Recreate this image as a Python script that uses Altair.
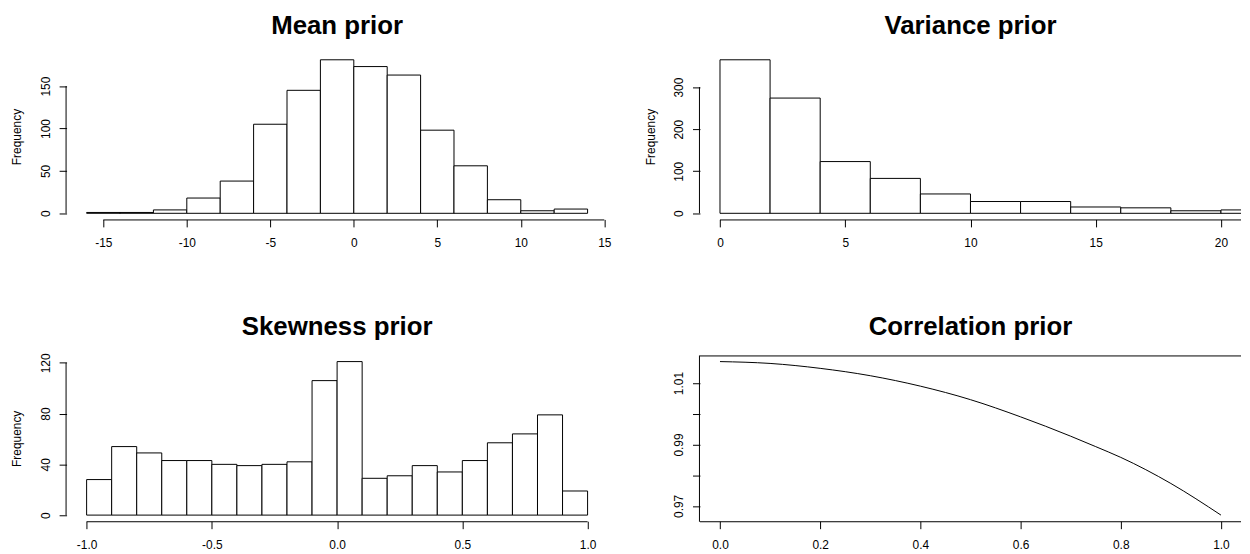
import altair as alt
import pandas as pd

FONT = "Liberation Sans"

# ---------------- data ----------------
mean_edges = [-16, -14, -12, -10, -8, -6, -4, -2, 0, 2, 4, 6, 8, 10, 12, 14]
mean_counts = [1, 1, 4, 18, 38, 105, 145, 181, 173, 163, 98, 56, 16, 3, 5]
mean_xticks = [-15, -10, -5, 0, 5, 10, 15]
mean_yticks = [0, 50, 100, 150]

var_edges = [0, 2, 4, 6, 8, 10, 12, 14, 16, 18, 20, 22]
var_counts = [365, 274, 123, 83, 46, 28, 28, 15, 13, 6, 8]
var_xticks = [0, 5, 10, 15, 20]
var_yticks = [0, 100, 200, 300]

skew_edges = [-1.0, -0.9, -0.8, -0.7, -0.6, -0.5, -0.4, -0.3, -0.2, -0.1, 0.0,
              0.1, 0.2, 0.3, 0.4, 0.5, 0.6, 0.7, 0.8, 0.9, 1.0]
skew_counts = [28, 54, 49, 43, 43, 40, 39, 40, 42, 106, 121,
               29, 31, 39, 34, 43, 57, 64, 79, 19]
skew_xticks = [-1.0, -0.5, 0.0, 0.5, 1.0]
skew_yticks = [0, 20, 40, 60, 80, 100, 120]
skew_ylabels = ["0", "20", "40", "60", "80", "120"]

corr_x = [0.0, 0.1, 0.2, 0.3, 0.4, 0.5, 0.6, 0.7, 0.75, 0.8, 0.9, 1.0]
corr_y = [1.0170, 1.0164, 1.0148, 1.0124, 1.0090, 1.0046, 0.9990, 0.9927,
          0.9893, 0.9858, 0.9773, 0.9670]
corr_xticks = [0.0, 0.2, 0.4, 0.6, 0.8, 1.0]
corr_yticks = [0.97, 0.98, 0.99, 1.00, 1.01]
corr_ylabels = ["0.97", "0.99", "1.01"]

W = 545
H = 167
TICK = 7.5


def ext(lo, hi):
    d = (hi - lo) * 0.04
    return [lo - d, hi + d]


def x_axis(values, fmt):
    return alt.Axis(
        values=values, domain=False, grid=False, ticks=True, tickSize=TICK,
        tickColor="black", tickWidth=1, labelFont=FONT, labelFontSize=12,
        labelColor="black", labelPadding=10.5, labelFlush=False, labelOverlap=False,
        labelExpr="replace(format(datum.value, '%s'), '\u2212', '-')" % fmt,
        title=None,
    )


def y_axis(values, fmt, shown=None, title="Frequency"):
    if shown is None:
        expr = "format(datum.value, '%s')" % fmt
    else:
        arr = "[" + ",".join("'%s'" % s for s in shown) + "]"
        expr = "indexof(%s, format(datum.value, '%s')) >= 0 ? format(datum.value, '%s') : ''" % (arr, fmt, fmt)
    kw = dict(
        values=values, domain=False, grid=False, ticks=True, tickSize=TICK,
        tickColor="black", tickWidth=1, labelFont=FONT, labelFontSize=12,
        labelColor="black", labelAngle=270, labelAlign="center",
        labelBaseline="bottom", labelPadding=7, labelOverlap=False,
        labelExpr=expr,
    )
    if title:
        kw.update(title=title, titleFont=FONT, titleFontSize=12,
                  titleFontWeight="normal", titleColor="black", titleAngle=270,
                  titleX=-50, titleY=H / 2, titleAlign="center",
                  titleBaseline="middle")
    else:
        kw.update(title=None)
    return alt.Axis(**kw)


def title_params(text, offset=15.2):
    return alt.TitleParams(text=text, font=FONT, fontSize=26, fontWeight="bold",
                           color="black", anchor="middle", frame="group",
                           offset=offset)


def hist_panel(title, edges, counts, xdom, xticks, yticks, xfmt, yfmt,
               shown=None, line_to_edge=False, toff=15.2):
    df = pd.DataFrame({"x0": edges[:-1], "x1": edges[1:], "n": counts,
                       "zero": [0] * len(counts)})
    ymax = max(counts)
    xs = alt.Scale(domain=xdom, nice=False, zero=False)
    ys = alt.Scale(domain=ext(0, ymax), nice=False, zero=False)
    bars = alt.Chart(df).mark_rect(fill="white", stroke="black", strokeWidth=1,
                                   clip=True).encode(
        x=alt.X("x0:Q", scale=xs, axis=x_axis(xticks, xfmt)),
        x2="x1:Q",
        y=alt.Y("n:Q", scale=ys, axis=y_axis(yticks, yfmt, shown)),
        y2="zero:Q",
    )
    xl = pd.DataFrame({"a": [min(xticks)], "b": [max(xticks)]})
    if line_to_edge:
        xline = alt.Chart(xl).mark_rule(color="black", strokeWidth=1).encode(
            x="a:Q", x2=alt.value(W), y=alt.value(H + 0.5))
    else:
        xline = alt.Chart(xl).mark_rule(color="black", strokeWidth=1).encode(
            x="a:Q", x2="b:Q", y=alt.value(H + 0.5))
    yl = pd.DataFrame({"a": [min(yticks)], "b": [max(yticks)]})
    yline = alt.Chart(yl).mark_rule(color="black", strokeWidth=1).encode(
        y="a:Q", y2="b:Q", x=alt.value(-0.5))
    return alt.layer(bars, xline, yline).properties(
        width=W, height=H, title=title_params(title, toff))


p1 = hist_panel("Mean prior", mean_edges, mean_counts, ext(-16, 14),
                mean_xticks, mean_yticks, ".0f", ".0f")
p2 = hist_panel("Variance prior", var_edges, var_counts, ext(0, 20),
                var_xticks, var_yticks, ".0f", ".0f", line_to_edge=True)
p3 = hist_panel("Skewness prior", skew_edges, skew_counts, ext(-1, 1),
                skew_xticks, skew_yticks, ".1f", ".0f", shown=skew_ylabels,
                toff=12.7)

cdf = pd.DataFrame({"x": corr_x, "y": corr_y})
cxs = alt.Scale(domain=ext(0, 1), nice=False, zero=False)
cys = alt.Scale(domain=ext(min(corr_y), max(corr_y)), nice=False, zero=False)
cline = alt.Chart(cdf).mark_line(color="black", strokeWidth=1,
                                 interpolate="monotone").encode(
    x=alt.X("x:Q", scale=cxs, axis=x_axis(corr_xticks, ".1f")),
    y=alt.Y("y:Q", scale=cys, axis=y_axis(corr_yticks, ".2f", corr_ylabels, title=None)),
)
box = pd.DataFrame({"k": [0]})
top_rule = alt.Chart(box).mark_rule(color="black", strokeWidth=1).encode(
    x=alt.value(0), x2=alt.value(W), y=alt.value(0.5))
bot_rule = alt.Chart(box).mark_rule(color="black", strokeWidth=1).encode(
    x=alt.value(0), x2=alt.value(W), y=alt.value(H + 0.5))
left_rule = alt.Chart(box).mark_rule(color="black", strokeWidth=1).encode(
    y=alt.value(0), y2=alt.value(H + 0.5), x=alt.value(-0.5))
p4 = alt.layer(cline, top_rule, bot_rule, left_rule).properties(
    width=W, height=H, title=title_params("Correlation prior"))

chart = alt.concat(p1, p2, p3, p4, columns=2,
                   spacing={"row": 137, "column": 93}, bounds="flush").properties(
    padding={"left": 3, "top": 2, "right": 0, "bottom": 0},
    background="white",
).configure_view(strokeOpacity=0, stroke="transparent")

chart.save("out.html", embed_options={"renderer": "svg", "actions": False})
